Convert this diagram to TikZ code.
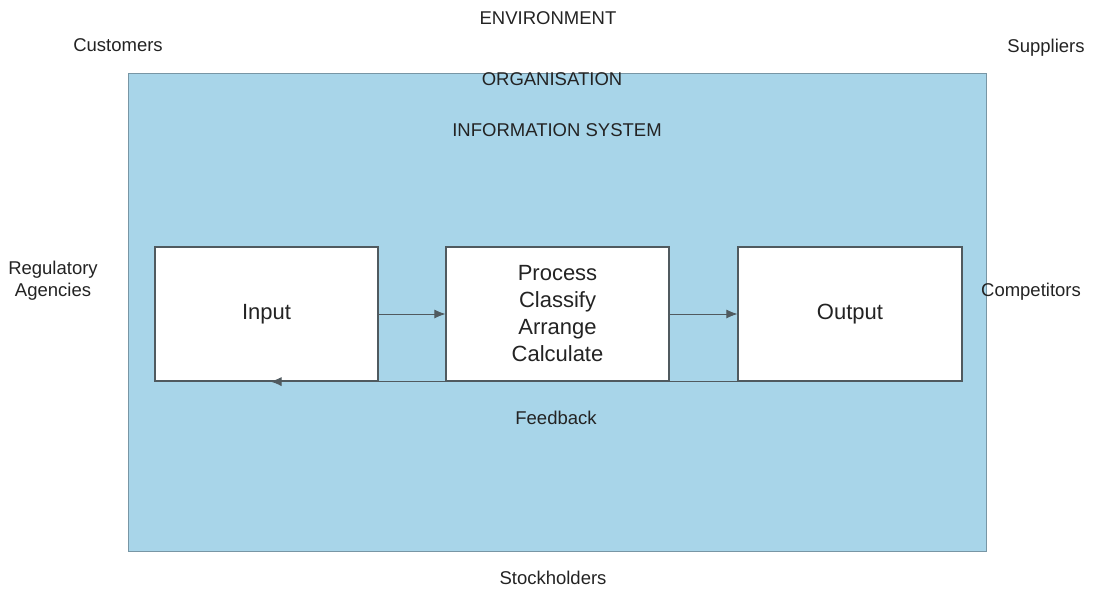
\documentclass[tikz,border=0pt]{standalone}
\usepackage{fontspec}
\setmainfont{Liberation Sans}
\usetikzlibrary{arrows.meta}
\definecolor{orgblue}{RGB}{168,213,233}
\definecolor{orgedge}{RGB}{120,150,165}
\definecolor{boxedge}{RGB}{80,90,95}
\definecolor{txt}{RGB}{35,35,35}
\begin{document}
\begin{tikzpicture}[x=1pt,y=-1pt,
  lbl/.style={text=txt,font=\fontsize{18.5}{22}\selectfont,align=center,inner sep=0pt},
  boxtxt/.style={text=txt,font=\fontsize{22}{27}\selectfont,align=center},
  stagebox/.style={draw=boxedge,line width=1.2pt,fill=white,minimum width=223pt,minimum height=134pt,inner sep=0pt},
  flow/.style={draw=boxedge,line width=0.8pt,-{Latex[length=11pt,width=9pt]}}]
\useasboundingbox (0,0) rectangle (1093,616);
\node[draw=orgedge,line width=1pt,fill=orgblue,minimum width=858pt,minimum height=478pt,inner sep=0pt] (org) at (557,312) {};
\node[lbl] (env) at (548,18) {ENVIRONMENT};
\node[lbl] (cust) at (118,45) {Customers};
\node[lbl] (supp) at (1046,48) {Suppliers};
\node[lbl] (orgl) at (552,79) {ORGANISATION};
\node[lbl] (is) at (557,130) {INFORMATION SYSTEM};
\node[lbl] (reg) at (53,281) {Regulatory\\Agencies};
\node[lbl] (comp) at (1031,292) {Competitors};
\node[lbl] (fb) at (556,418) {Feedback};
\node[lbl] (stock) at (553,578) {Stockholders};
\node[stagebox] (in) at (266.5,314) {};
\node[stagebox] (proc) at (557.5,314) {};
\node[stagebox,minimum width=224pt] (out) at (850,314) {};
\node[boxtxt] at (in) {Input};
\node[boxtxt] at (proc) {Process\\Classify\\Arrange\\Calculate};
\node[boxtxt] at (out) {Output};
\draw[flow] (in.east) -- (proc.west);
\draw[flow] (proc.east) -- (out.west);
\draw[flow] (out.south east) -- ([xshift=4pt]in.south);
\end{tikzpicture}
\end{document}
